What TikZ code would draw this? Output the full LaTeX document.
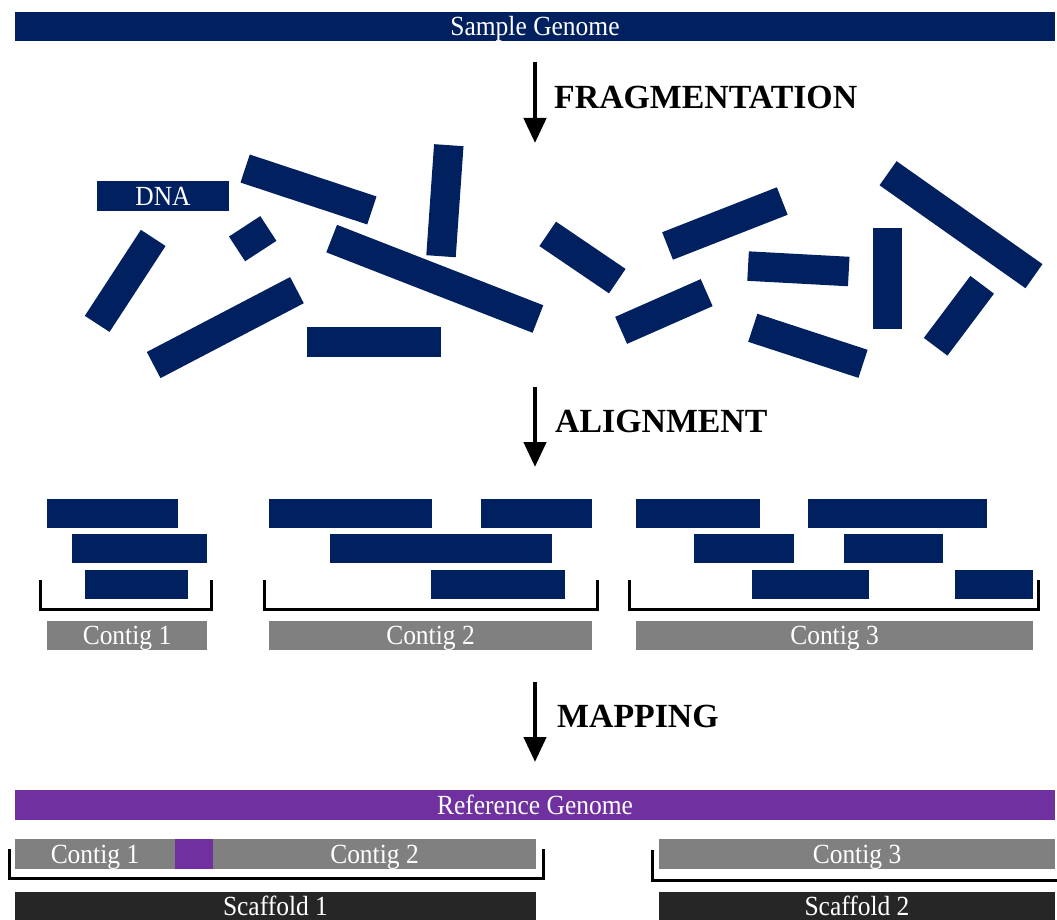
\documentclass[tikz,border=0pt]{standalone}
\usepackage{fontspec}
\setmainfont{Liberation Serif}
\newfontfamily\barfont{Liberation Serif}[FakeStretch=0.92]
\usetikzlibrary{arrows.meta}
\definecolor{genenavy}{HTML}{002060}
\definecolor{refpurple}{HTML}{7030A0}
\definecolor{contiggray}{HTML}{808080}
\definecolor{scafdark}{HTML}{262626}

% axis-aligned bar: name, x1, y1, x2, y2, style, text
\newcommand\blk[7]{\node[#6, minimum width={(#4-#2)*1pt}, minimum height={(#5-#3)*1pt}] (#1) at ({(#2+#4)/2},{(#3+#5)/2}) {#7};}
% rotated DNA fragment: name, centre x, centre y, length, angle
\newcommand\frag[5]{\node[fragbox, minimum width=#4pt, rotate=#5] (#1) at (#2,#3) {};}

\begin{document}
\begin{tikzpicture}[x=1pt,y=-1pt,
  barbase/.style={inner sep=0pt, outer sep=0pt, text=white,
    font=\barfont\fontsize{27.7}{32}\selectfont, text height=18.3pt, text depth=0pt},
  navybar/.style={barbase, fill=genenavy},
  purplebar/.style={barbase, fill=refpurple},
  graybar/.style={barbase, fill=contiggray},
  scafbar/.style={barbase, fill=scafdark},
  fragbox/.style={fill=genenavy, inner sep=0pt, outer sep=0pt, minimum height=29.5pt},
  steplbl/.style={anchor=west, inner sep=0pt, font=\fontsize{33.8}{40}\selectfont\bfseries},
  flow/.style={line width=4.5pt, -{Triangle[width=22pt,length=25pt]}},
  brace/.style={line width=3pt, line join=miter}]
\useasboundingbox (0,0) rectangle (1057,920);

% ---- sample genome ----
\blk{sample}{15}{12}{1055}{41}{navybar}{Sample Genome}

% ---- fragmentation ----
\coordinate (f1s) at (535,62);
\coordinate (f1e) at (535,143);
\draw[flow] (f1s) -- (f1e);
\node[steplbl] (fraglbl) at (554,97) {FRAGMENTATION};

\blk{dna}{97}{181}{229}{211}{navybar}{DNA}
\frag{fa}{308.5}{189.5}{133.5}{-18.3}
\frag{fb}{444.9}{200.7}{111.3}{86}
\frag{fc}{252.7}{238.7}{37.4}{33.1}
\frag{fd}{125.2}{280.9}{102.6}{56.9}
\frag{fe}{225.3}{327.6}{161.7}{27.6}
\blk{ff}{307}{327}{441}{357}{navybar}{}
\frag{fg}{434.8}{278.8}{221.4}{-21.3}
\frag{fh}{582.5}{257.5}{84.1}{-34.2}
\frag{fi}{724.9}{223.5}{123.2}{21.4}
\frag{fj}{663.9}{311.5}{93.5}{23.8}
\frag{fk}{798.4}{268.8}{100.8}{-3.1}
\blk{fl}{873}{228}{902}{329}{navybar}{}
\frag{fm}{807.9}{345.8}{116}{-18.1}
\frag{fn}{961}{224.7}{178.6}{-35.2}
\frag{fo}{958.9}{315.8}{77.5}{53.1}

% ---- alignment ----
\coordinate (f2s) at (535,387);
\coordinate (f2e) at (535,467);
\draw[flow] (f2s) -- (f2e);
\node[steplbl] (alignlbl) at (555,421) {ALIGNMENT};

% contig 1 reads
\blk{a1}{47}{499}{178}{528}{navybar}{}
\blk{a2}{72}{534}{207}{563}{navybar}{}
\blk{a3}{85}{570}{188}{599}{navybar}{}
% contig 2 reads
\blk{b1}{269}{499}{432}{528}{navybar}{}
\blk{b2}{481}{499}{592}{528}{navybar}{}
\blk{b3}{330}{534}{552}{563}{navybar}{}
\blk{b4}{431}{570}{565}{599}{navybar}{}
% contig 3 reads
\blk{c1}{636}{499}{760}{528}{navybar}{}
\blk{c2}{808}{499}{987}{528}{navybar}{}
\blk{c3}{694}{534}{794}{563}{navybar}{}
\blk{c4}{844}{534}{943}{563}{navybar}{}
\blk{c5}{752}{570}{869}{599}{navybar}{}
\blk{c6}{955}{570}{1033}{599}{navybar}{}

% brackets under each read pile
\coordinate (k1a) at (40,580);  \coordinate (k1b) at (211,580);
\coordinate (k2a) at (264,580); \coordinate (k2b) at (597,580);
\coordinate (k3a) at (629,580); \coordinate (k3b) at (1038,580);
\draw[brace] (k1a) -- ++(0,29) -| (k1b);
\draw[brace] (k2a) -- ++(0,29) -| (k2b);
\draw[brace] (k3a) -- ++(0,29) -| (k3b);

\blk{ctg1}{47}{621}{207}{650}{graybar}{Contig 1}
\blk{ctg2}{269}{621}{592}{650}{graybar}{Contig 2}
\blk{ctg3}{636}{621}{1033}{650}{graybar}{Contig 3}

% ---- mapping ----
\coordinate (f3s) at (535,682);
\coordinate (f3e) at (535,762);
\draw[flow] (f3s) -- (f3e);
\node[steplbl] (maplbl) at (557,716) {MAPPING};

\blk{refg}{15}{790}{1055}{820}{purplebar}{Reference Genome}

\blk{m1}{15}{839}{175}{869}{graybar}{Contig 1}
\blk{gap}{175}{839}{213}{869}{purplebar}{}
\blk{m2}{213}{839}{536}{869}{graybar}{Contig 2}
\blk{m3}{659}{839}{1055}{869}{graybar}{Contig 3}

\coordinate (s1a) at (9,849);   \coordinate (s1b) at (543,849);
\coordinate (s2a) at (652,850); \coordinate (s2b) at (1062,850);
\draw[brace] (s1a) -- ++(0,29) -| (s1b);
\draw[brace] (s2a) -- ++(0,30) -| (s2b);

\blk{sc1}{15}{892}{536}{921}{scafbar}{Scaffold 1}
\blk{sc2}{659}{892}{1055}{921}{scafbar}{Scaffold 2}
\end{tikzpicture}
\end{document}
